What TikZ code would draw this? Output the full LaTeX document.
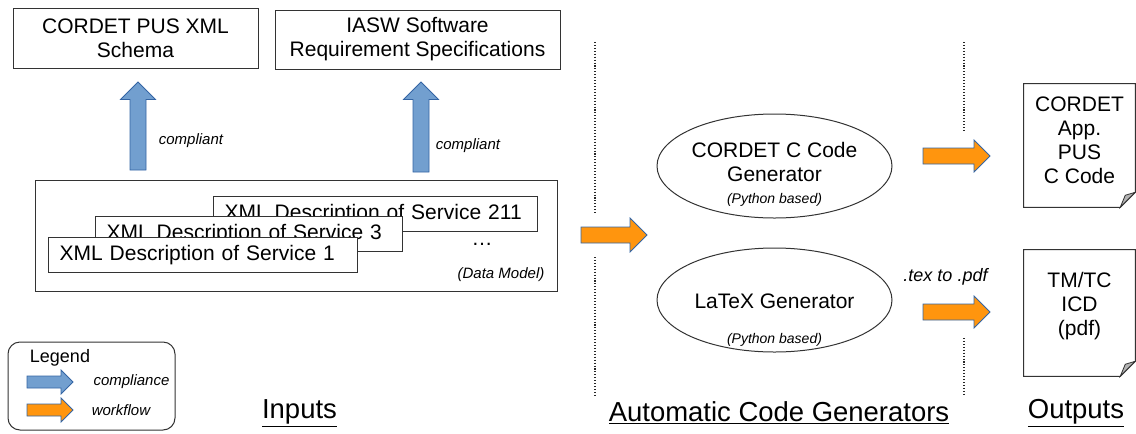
\documentclass[tikz,border=0pt]{standalone}
\usepackage{fontspec}
\setmainfont{Liberation Sans}
\usetikzlibrary{shapes.geometric}

\definecolor{compblue}{HTML}{729FCF}
\definecolor{compline}{HTML}{3465A4}
\definecolor{flowfill}{HTML}{FF950E}
\definecolor{foldgray}{HTML}{B3B3B3}

% block arrow: style, start, angle, length, shaft half width, head half width
\newcommand{\blockarrow}[6]{%
  \draw[#1, shift={#2}, rotate=#3] (0,{-#5}) -- ({#4-#6},{-#5}) -- ({#4-#6},{-#6})
    -- (#4,0) -- ({#4-#6},#6) -- ({#4-#6},#5) -- (0,#5) -- cycle;}

\begin{document}
\begin{tikzpicture}[x=0.75pt, y=-0.75pt,
    txt/.style={font=\fontsize{15.75}{18}\selectfont, align=center},
    box/.style={txt, draw=black!80, line width=0.75pt, fill=white, inner sep=0pt},
    svcbox/.style={box, anchor=north west, align=left, inner xsep=8.25pt,
      minimum height=26.25pt},
    note/.style={font=\fontsize{11.25}{13}\selectfont\itshape},
    gen/.style={ellipse, draw=black!80, line width=0.75pt, minimum width=176.25pt,
      minimum height=78pt},
    doc/.style={minimum width=83.25pt, inner sep=0pt},
    compliance/.style={fill=compblue, draw=compline, line width=0.6pt},
    workflow/.style={fill=flowfill, draw=compline, line width=0.6pt},
    sep/.style={draw=black!85, line width=0.8pt, dash pattern=on 0.8pt off 1.4pt},
    title/.style={font=\fontsize{20.6}{24}\selectfont}]
  \useasboundingbox (0,0) rectangle (1136,433);

  % inputs
  \node[box, minimum width=183.75pt, minimum height=45pt] (schema) at (135.5,38)
    {CORDET PUS XML\\Schema};
  \node[box, minimum width=213.75pt, minimum height=44.25pt] (iasw) at (417.5,39.5)
    {IASW Software\\Requirement Specifications};
  \blockarrow{compliance}{(138,170)}{90}{88}{8}{17.5}
  \blockarrow{compliance}{(421,172)}{90}{90}{8}{17.5}
  \node[note] (comp1) at (191,141) {compliant};
  \node[note] (comp2) at (468,146) {compliant};

  \node[box, minimum width=391.5pt, minimum height=83.25pt] (datamodel) at (296,235.5) {};
  \node[svcbox, text width=226.5pt] (svc211) at (213,196) {XML Description of Service 211};
  \node[svcbox, text width=213.75pt] (svc3) at (95,216) {XML Description of Service 3};
  \node[svcbox, text width=215.25pt] (svc1) at (48,237) {XML Description of Service 1};
  \node[txt] (dots) at (482,244) {\dots};
  \node[note] (dmlabel) at (501,275) {(Data Model)};

  \draw[sep] (595,42) -- (595,213);
  \draw[sep] (595,257) -- (595,395);
  \blockarrow{workflow}{(581,235)}{0}{66}{8}{17}

  % generators
  \node[gen] (cgen) at (774.5,166) {};
  \node[txt] (cgentext) at (774.5,162) {CORDET C Code\\Generator};
  \node[note, font=\fontsize{10.5}{12}\selectfont\itshape] (cgenpy) at (774.5,200) {(Python based)};
  \node[gen] (lgen) at (774.5,300) {};
  \node[txt] (lgentext) at (774.5,301) {LaTeX Generator};
  \node[note, font=\fontsize{10.5}{12}\selectfont\itshape] (lgenpy) at (774.5,340) {(Python based)};

  \draw[sep] (964,42) -- (964,132);
  \draw[sep] (964,338) -- (964,395);
  \blockarrow{workflow}{(923,156)}{0}{67}{8}{16}
  \blockarrow{workflow}{(923,312)}{0}{67}{8}{16}
  \node[note, font=\fontsize{13.5}{15}\selectfont\itshape] (texpdf) at (945.5,277) {.tex to .pdf};

  % outputs
  \node[doc, minimum height=92.25pt] (appcode) at (1079.5,145.5) {};
  \node[doc, minimum height=94.5pt] (icd) at (1079.5,313) {};
  \foreach \d in {appcode, icd} {
    \draw[draw=black!80, line width=0.75pt, fill=white] (\d.north west) -- (\d.north east)
      -- ([yshift=11.25pt]\d.south east) -- ([xshift=-11.25pt]\d.south east)
      -- (\d.south west) -- cycle;
    \draw[draw=black!80, line width=0.6pt, fill=foldgray] ([yshift=11.25pt]\d.south east)
      -- ([xshift=-11.25pt]\d.south east) -- ([xshift=-7.5pt, yshift=9pt]\d.south east) -- cycle;
  }
  \node[txt, text depth=0pt] (appcodetext) at (1079.5,140) {CORDET\\App.\\PUS\\C Code};
  \node[txt] (icdtext) at (1079.5,306) {TM/TC\\ICD\\(pdf)};

  % legend
  \node[draw=black!80, line width=0.75pt, rounded corners=9pt, minimum width=125.25pt,
    minimum height=66pt] (legend) at (91.5,386) {};
  \node[font=\fontsize{13.5}{15}\selectfont] (legendtitle) at (60,358) {Legend};
  \blockarrow{compliance}{(27,382)}{0}{46}{6}{12}
  \blockarrow{workflow}{(27,410)}{0}{46}{6}{12}
  \node[note] (legcomp) at (131.5,382) {compliance};
  \node[note] (legflow) at (121,410) {workflow};

  \node[title] (inputs) at (299.5,413) {\underline{Inputs}};
  \node[title] (generators) at (779,413) {\underline{Automatic Code Generators}};
  \node[title] (outputs) at (1076,413) {\underline{Outputs}};
\end{tikzpicture}
\end{document}
